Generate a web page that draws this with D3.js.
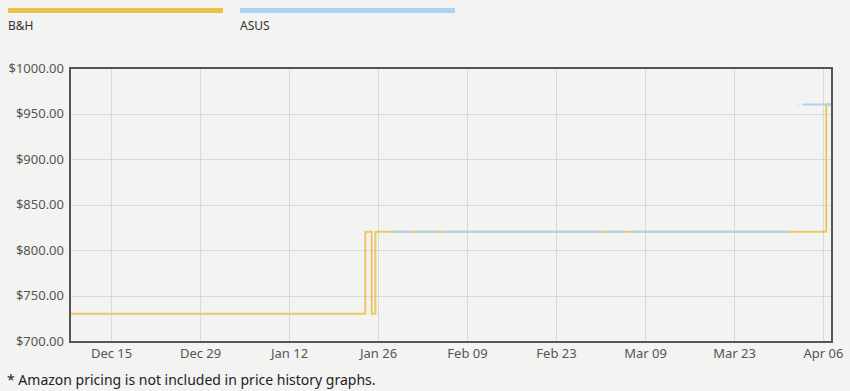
<!DOCTYPE html>
<html><head><meta charset="utf-8">
<script src="https://cdn.jsdelivr.net/npm/d3@7"></script>
<style>
html,body{margin:0;padding:0;background:#f3f3f2;}
svg{display:block;font-family:"Noto Sans","Open Sans",sans-serif;}
</style></head>
<body><svg id="c" width="850" height="391"></svg>
<script>
// ---- data ----
const seriesNames = ["B&H", "ASUS"];
const seriesColors = ["#e9c149", "#acd3f2"];
const yTicks = [700, 750, 800, 850, 900, 950, 1000];
const xTickDates = ["2024-12-15","2024-12-29","2025-01-12","2025-01-26","2025-02-09","2025-02-23","2025-03-09","2025-03-23","2025-04-06"];
const xDomain = ["2024-12-08T13:00","2025-04-07T10:00"];
// B&H step data (date, price)
const bhDates  = ["2024-12-08T13:00","2025-01-24T00:00","2025-01-25T00:00","2025-01-25T14:00","2025-04-06T12:00","2025-04-07T10:00"];
const bhPrices = [730, 820, 730, 820, 960, 960];
// ASUS step data; null = gap
const asusDates  = ["2025-01-28T10:00","2025-01-31T12:00","2025-01-31T12:00","2025-02-01T05:00","2025-02-04T19:00","2025-02-04T19:00","2025-02-05T10:00","2025-03-02T02:00","2025-03-02T02:00","2025-03-02T17:00","2025-03-05T22:00","2025-03-05T22:00","2025-03-07T00:00","2025-03-31T12:00","2025-03-31T12:00","2025-04-02T01:00","2025-04-02T04:00","2025-04-02T04:00","2025-04-02T17:00","2025-04-07T10:00"];
const asusPrices = [820, 820, null, 820, 820, null, 820, 820, null, 820, 820, null, 820, 820, null, 960, 960, null, 960, 960];
const footnote = "* Amazon pricing is not included in price history graphs.";

// ---- chart ----
const svg = d3.select("#c");
const L = 70, R = 832, T = 68, B = 342;
const x = d3.scaleTime().domain(xDomain.map(d => new Date(d))).range([L, R]);
const y = d3.scaleLinear().domain([700, 1000]).range([B - 1, T]);
const fmtX = d3.timeFormat("%b %d");
const font = "'Noto Sans','Open Sans',sans-serif";

// grid
const g = svg.append("g");
g.selectAll("line.h").data(yTicks.slice(1, -1)).join("line")
  .attr("x1", L).attr("x2", R).attr("y1", d => Math.round(y(d)) + 0.5).attr("y2", d => Math.round(y(d)) + 0.5)
  .attr("stroke", "#d9d9d9").attr("stroke-width", 1);
g.selectAll("line.v").data(xTickDates).join("line")
  .attr("y1", T).attr("y2", B).attr("x1", d => Math.round(x(new Date(d))) + 0.5).attr("x2", d => Math.round(x(new Date(d))) + 0.5)
  .attr("stroke", "#d9d9d9").attr("stroke-width", 1);

// axes
const yAxis = d3.axisLeft(y).tickValues(yTicks).tickSize(0).tickPadding(6).tickFormat(d => "$" + d3.format(".2f")(d));
const ya = svg.append("g").attr("transform", `translate(${L},0)`).call(yAxis);
ya.select(".domain").remove();
ya.selectAll("text").attr("font-size", 13).attr("fill", "#555").attr("font-family", font);

const xAxis = d3.axisBottom(x).tickValues(xTickDates.map(d => new Date(d))).tickSize(0).tickPadding(7).tickFormat(fmtX);
const xa = svg.append("g").attr("transform", `translate(0,${B})`).call(xAxis);
xa.select(".domain").remove();
xa.selectAll("text").attr("font-size", 13).attr("fill", "#555").attr("font-family", font);

// lines
const line = d3.line().defined(d => d.v != null).x(d => x(d.t)).y(d => y(d.v)).curve(d3.curveStepAfter);
const bh = bhDates.map((d, i) => ({t: new Date(d), v: bhPrices[i]}));
const asus = asusDates.map((d, i) => ({t: new Date(d), v: asusPrices[i]}));
svg.append("path").datum(bh).attr("d", line).attr("fill", "none").attr("stroke", seriesColors[0]).attr("stroke-width", 2).attr("stroke-opacity", 0.85);
svg.append("path").datum(asus).attr("d", line).attr("fill", "none").attr("stroke", seriesColors[1]).attr("stroke-width", 2);

// frame
svg.append("rect").attr("x", L).attr("y", T).attr("width", R - L).attr("height", B - T)
  .attr("fill", "none").attr("stroke", "#555").attr("stroke-width", 2);

// legend
const lg = svg.append("g");
seriesNames.forEach((n, i) => {
  const lx = 8 + i * 232;
  lg.append("rect").attr("x", lx).attr("y", 8).attr("width", 215).attr("height", 5).attr("fill", seriesColors[i]);
  lg.append("text").attr("x", lx).attr("y", 30).attr("font-size", 12).attr("fill", "#333").text(n);
});

// footnote
svg.append("text").attr("x", 7).attr("y", 385).attr("font-size", 14).attr("fill", "#222").text(footnote);
</script></body></html>
